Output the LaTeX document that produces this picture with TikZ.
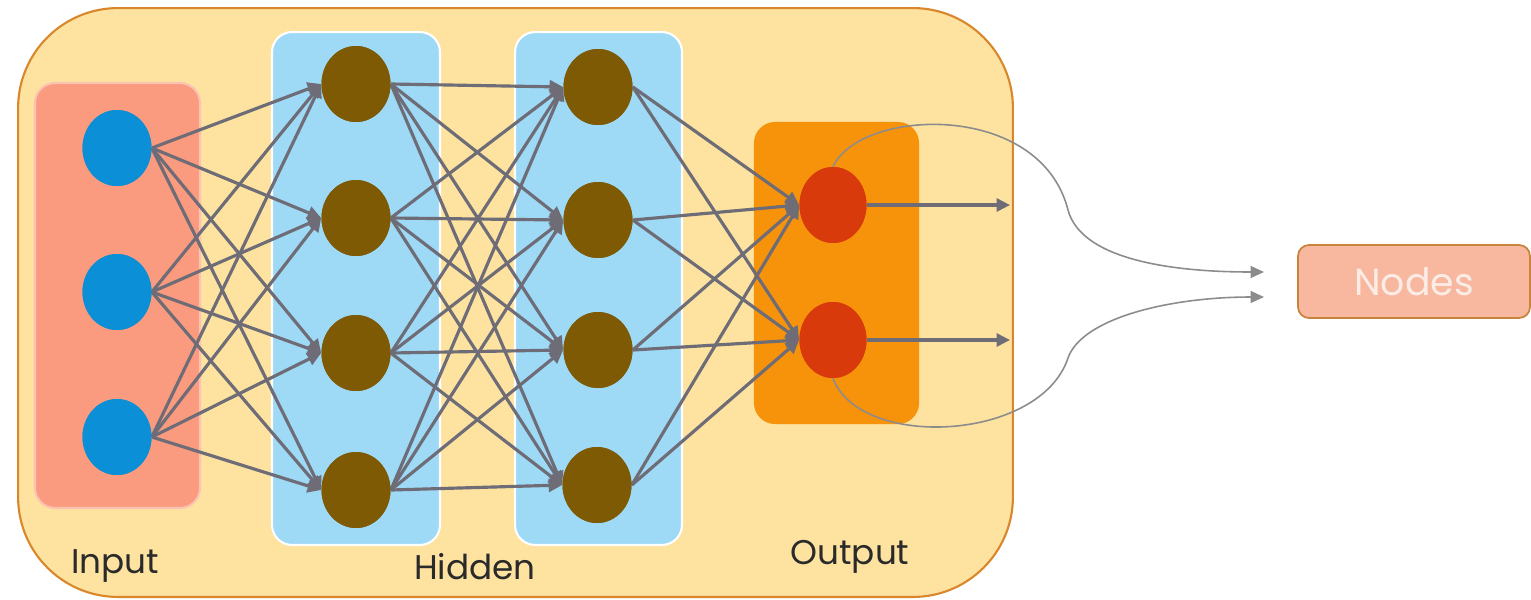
\documentclass[tikz,border=0pt]{standalone}
\usepackage{fontspec}
\setmainfont{Poppins}
\usetikzlibrary{arrows.meta,shapes.geometric}
\definecolor{bigfill}{HTML}{FDE2A0}
\definecolor{bigdraw}{HTML}{D9872A}
\definecolor{infill}{HTML}{FA9A7E}
\definecolor{hidfill}{HTML}{9ED9F6}
\definecolor{outfill}{HTML}{F7930B}
\definecolor{inneur}{HTML}{0B8FD6}
\definecolor{hidneur}{HTML}{7F5A05}
\definecolor{outneur}{HTML}{D93A0C}
\definecolor{conn}{HTML}{6E6C76}
\definecolor{curv}{HTML}{8C8C8C}
\definecolor{nodefill}{HTML}{F8B8A0}
\definecolor{nodedraw}{HTML}{C8843C}
\definecolor{nodetext}{HTML}{FBEDE6}
\definecolor{labtext}{HTML}{2A2A2A}
\tikzset{
  layerbox/.style={rectangle, rounded corners=0.4cm, draw=white, line width=1.2pt, inner sep=0pt},
  neuron/.style={ellipse, inner sep=0pt, minimum width=1.38cm, minimum height=1.52cm, draw=none},
  link/.style={draw=conn, line width=1.8pt, -{Triangle[length=0.27cm,width=0.26cm]}},
  curvelink/.style={draw=curv, line width=0.9pt, -{Triangle[length=0.27cm,width=0.24cm]}},
  lab/.style={font=\fontsize{19.5}{23}\selectfont, text=labtext, inner sep=0pt}
}
\begin{document}
\begin{tikzpicture}[x=0.02cm,y=-0.02cm]
\useasboundingbox (0,0) rectangle (1531,599);
\fill[white] (0,0) rectangle (1531,599);
% outer box
\node[rectangle, rounded corners=2cm, fill=bigfill, draw=bigdraw, line width=1.2pt,
      minimum width=19.9cm, minimum height=11.78cm, inner sep=0pt] (big) at (515.5,302.5) {};
% layer boxes
\node[layerbox, fill=infill, draw=infill!60!white, minimum width=3.3cm, minimum height=8.5cm] (inbox) at (117.5,295.5) {};
\node[layerbox, fill=hidfill, minimum width=3.36cm, minimum height=10.26cm] (h1box) at (356,288.5) {};
\node[layerbox, fill=hidfill, minimum width=3.34cm, minimum height=10.26cm] (h2box) at (598.5,288.5) {};
\node[layerbox, fill=outfill, draw=outfill, minimum width=3.26cm, minimum height=6cm] (outbox) at (836.5,273) {};
% neuron centres
\path
  (117,148) coordinate (ci1) (117,292) coordinate (ci2) (117,437) coordinate (ci3)
  (356,84) coordinate (ca1) (356,218) coordinate (ca2) (356,353) coordinate (ca3) (356,490) coordinate (ca4)
  (598,87) coordinate (cb1) (598,220) coordinate (cb2) (598,350) coordinate (cb3) (597,485) coordinate (cb4)
  (833,205) coordinate (co1) (833,340) coordinate (co2);
\foreach \i in {1,2,3} \node[neuron, fill=inneur] (i\i) at (ci\i) {};
\foreach \i in {1,2,3,4} \node[neuron, fill=hidneur] (a\i) at (ca\i) {};
\foreach \i in {1,2,3,4} \node[neuron, fill=hidneur] (b\i) at (cb\i) {};
\foreach \i in {1,2} \node[neuron, fill=outneur, minimum width=1.34cm] (o\i) at (co\i) {};
% connectors
\foreach \s in {1,2,3} \foreach \t in {1,2,3,4} \draw[link] (i\s.east) -- (a\t.west);
\foreach \s in {1,2,3,4} \foreach \t in {1,2,3,4} \draw[link] (a\s.east) -- (b\t.west);
\foreach \s in {1,2,3,4} \foreach \t in {1,2} \draw[link] (b\s.east) -- (o\t.west);
\coordinate (e1) at (1010,205);
\coordinate (e2) at (1010,340);
\draw[link] (o1.east) -- (e1);
\draw[link] (o2.east) -- (e2);
% Nodes box
\node[rectangle, rounded corners=0.22cm, fill=nodefill, draw=nodedraw, line width=1pt,
      minimum width=4.64cm, minimum height=1.46cm, inner sep=0pt,
      font=\fontsize{21.5}{25}\selectfont, text=nodetext] (nodes) at (1414,281.5) {Nodes};
\coordinate (t1) at (1264,272);
\coordinate (t2) at (1264,297);
% curves
\draw[curvelink] (o1.north) .. controls (860,108) and (1040,100) .. (1068,210)
   .. controls (1082,262) and (1180,272) .. (t1);
\draw[curvelink] (o2.south) .. controls (860,450) and (1040,442) .. (1068,358)
   .. controls (1082,318) and (1170,297) .. (t2);
% redraw neurons on top
\foreach \i in {1,2,3} \node[neuron, fill=inneur] at (ci\i) {};
\foreach \i in {1,2,3,4} \node[neuron, fill=hidneur] at (ca\i) {};
\foreach \i in {1,2,3,4} \node[neuron, fill=hidneur] at (cb\i) {};
\foreach \i in {1,2} \node[neuron, fill=outneur, minimum width=1.34cm] at (co\i) {};
% labels
\node[lab] (linput) at (115,566) {Input};
\node[lab] (lhidden) at (475,567) {Hidden};
\node[lab] (loutput) at (850,557) {Output};
\end{tikzpicture}
\end{document}
